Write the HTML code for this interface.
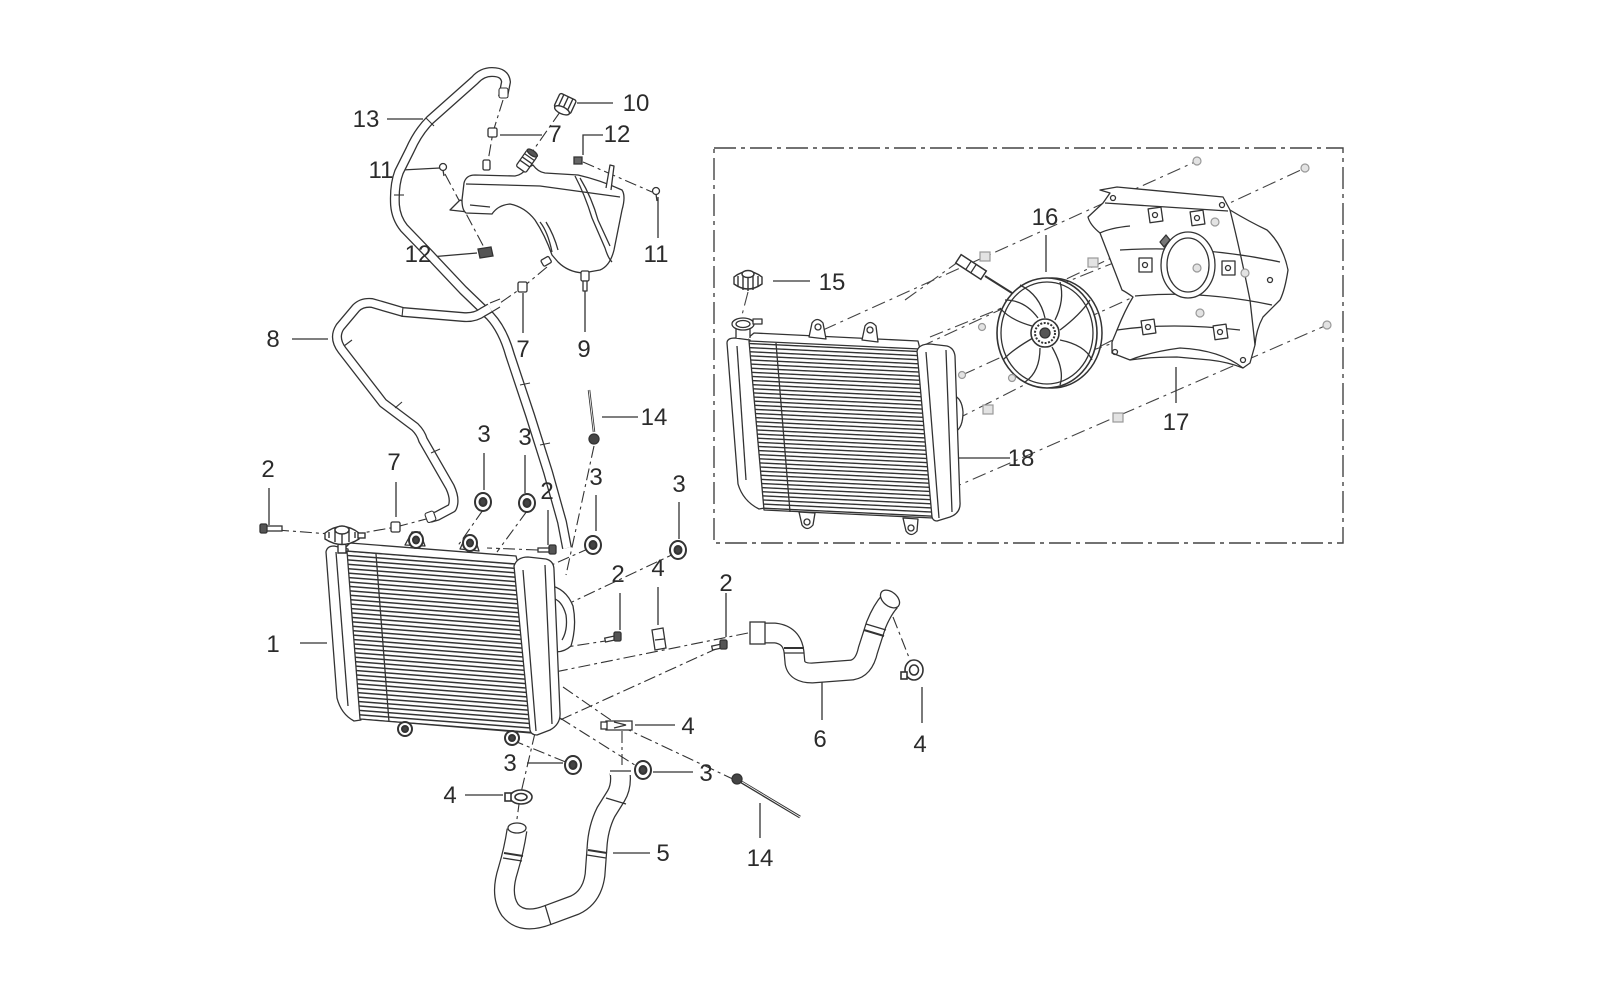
<!DOCTYPE html>
<html><head><meta charset="utf-8"><style>
html,body{margin:0;padding:0;background:#fff;}
svg{display:block}
text{font-family:"Liberation Sans",sans-serif;font-size:24px;fill:#2b2b2b;text-anchor:middle}
</style></head><body>
<svg width="1600" height="1001" viewBox="0 0 1600 1001" xmlns="http://www.w3.org/2000/svg">
<defs>
<pattern id="finL" patternUnits="userSpaceOnUse" width="400" height="4.4" patternTransform="skewY(4.4)">
<rect width="400" height="4.4" fill="#fff"/><rect y="0" width="400" height="1.5" fill="#333"/>
</pattern>
<pattern id="finR" patternUnits="userSpaceOnUse" width="400" height="4.1" patternTransform="skewY(2.7)">
<rect width="400" height="4.1" fill="#fff"/><rect y="0" width="400" height="1.4" fill="#333"/>
</pattern>
</defs>
<rect width="1600" height="1001" fill="#fff"/>

<!-- ===== dashed box ===== -->
<rect x="714" y="148" width="629" height="395" fill="none" stroke="#444" stroke-width="1.4" stroke-dasharray="22 5 4 5"/>

<!-- ===== dash-dot connectors (box) ===== -->
<g stroke="#444" stroke-width="1.1" fill="none" stroke-dasharray="14 5 3 5">
<line x1="823" y1="330" x2="1197" y2="161"/>
<line x1="920" y1="347" x2="1305" y2="168"/>
<line x1="930" y1="337" x2="1215" y2="222"/>
<line x1="962" y1="375" x2="1197" y2="268"/>
<line x1="1012" y1="378" x2="1200" y2="313"/>
<line x1="948" y1="490" x2="1327" y2="325"/>
<line x1="955" y1="420" x2="1245" y2="273"/>
<line x1="905" y1="300" x2="958" y2="262"/>
<line x1="748" y1="292" x2="742" y2="315"/>
</g>

<!-- ===== dash-dot connectors (left area) ===== -->
<g stroke="#333" stroke-width="1.1" fill="none" stroke-dasharray="12 4 3 4">
<line x1="277" y1="530" x2="330" y2="534"/>
<polyline points="430,518 396,527 362,533"/>
<polyline points="503,100 493,132 487,167"/>
<line x1="560" y1="112" x2="530" y2="155"/>
<line x1="445" y1="174" x2="487" y2="253"/>
<line x1="583" y1="162" x2="652" y2="192"/>
<polyline points="547,267 523,287 500,303"/>
<line x1="483" y1="510" x2="457" y2="547"/>
<line x1="527" y1="511" x2="497" y2="552"/>
<line x1="538" y1="550" x2="487" y2="548"/>
<line x1="590" y1="548" x2="547" y2="567"/>
<line x1="594" y1="446" x2="566" y2="575"/>
<line x1="678" y1="552" x2="572" y2="602"/>
<line x1="748" y1="633" x2="530" y2="677"/>
<line x1="612" y1="640" x2="560" y2="648"/>
<line x1="718" y1="648" x2="560" y2="720"/>
<polyline points="563,687 618,725 735,780"/>
<line x1="560" y1="718" x2="638" y2="767"/>
<line x1="512" y1="740" x2="568" y2="763"/>
<polyline points="535,733 520,797 516,826"/>
<line x1="622" y1="731" x2="622" y2="770"/>
<line x1="893" y1="617" x2="910" y2="660"/>
</g>

<!-- ===== leader lines ===== -->
<g stroke="#333" stroke-width="1.3" fill="none">
<line x1="387" y1="119" x2="423" y2="119"/>
<line x1="577" y1="103" x2="613" y2="103"/>
<line x1="500" y1="135" x2="542" y2="135"/>
<polyline points="583,155 583,135 603,135"/>
<line x1="402" y1="170" x2="440" y2="168"/>
<line x1="658" y1="197" x2="658" y2="238"/>
<line x1="430" y1="257" x2="477" y2="253"/>
<line x1="292" y1="339" x2="328" y2="339"/>
<line x1="523" y1="293" x2="523" y2="333"/>
<line x1="585" y1="290" x2="585" y2="332"/>
<line x1="602" y1="417" x2="638" y2="417"/>
<line x1="269" y1="488" x2="269" y2="525"/>
<line x1="396" y1="482" x2="396" y2="517"/>
<line x1="484" y1="453" x2="484" y2="490"/>
<line x1="525" y1="455" x2="525" y2="493"/>
<line x1="548" y1="510" x2="548" y2="545"/>
<line x1="596" y1="495" x2="596" y2="531"/>
<line x1="679" y1="502" x2="679" y2="539"/>
<line x1="620" y1="593" x2="620" y2="630"/>
<line x1="658" y1="587" x2="658" y2="625"/>
<line x1="726" y1="593" x2="726" y2="637"/>
<line x1="300" y1="643" x2="327" y2="643"/>
<line x1="822" y1="682" x2="822" y2="720"/>
<line x1="922" y1="687" x2="922" y2="723"/>
<line x1="635" y1="725" x2="675" y2="725"/>
<line x1="527" y1="763" x2="563" y2="763"/>
<line x1="653" y1="772" x2="693" y2="772"/>
<line x1="465" y1="795" x2="503" y2="795"/>
<line x1="613" y1="853" x2="650" y2="853"/>
<line x1="760" y1="803" x2="760" y2="838"/>
<line x1="773" y1="281" x2="810" y2="281"/>
<line x1="1046" y1="235" x2="1046" y2="272"/>
<line x1="1176" y1="367" x2="1176" y2="403"/>
<line x1="959" y1="458" x2="1010" y2="458"/>
</g>

<!-- ===== hoses 13 and 8 ===== -->
<g fill="none" stroke-linejoin="round" stroke-linecap="butt">
<path d="M503,97 L506,82 Q505,72 492,72 Q482,72 475,80 L430,120 Q418,132 410,150 L399,172 Q394,185 395,205 Q396,218 404,228 L430,255 L463,290 L490,316 Q503,330 510,355 L530,415 L548,472 L562,522 L567,548" stroke="#333" stroke-width="10"/>
<path d="M503,97 L506,82 Q505,72 492,72 Q482,72 475,80 L430,120 Q418,132 410,150 L399,172 Q394,185 395,205 Q396,218 404,228 L430,255 L463,290 L490,316 Q503,330 510,355 L530,415 L548,472 L562,522 L567,548" stroke="#fff" stroke-width="7.4"/>
<path d="M490,308 L483,312 Q475,318 463,317 L403,312 L372,303 Q362,302 356,308 L340,327 Q333,338 342,350 L383,403 L415,427 Q421,433 423,440 L450,487 Q456,500 452,508 L437,516 L430,518" stroke="#333" stroke-width="10"/>
<path d="M490,308 L483,312 Q475,318 463,317 L403,312 L372,303 Q362,302 356,308 L340,327 Q333,338 342,350 L383,403 L415,427 Q421,433 423,440 L450,487 Q456,500 452,508 L437,516 L430,518" stroke="#fff" stroke-width="7.4"/>
</g>
<g stroke="#333" stroke-width="1.1" fill="#fff">
<line x1="490" y1="303" x2="500" y2="299"/><line x1="490" y1="313" x2="500" y2="307"/>
<rect x="499" y="88" width="9" height="10" rx="2"/>
<line x1="426" y1="118" x2="434" y2="126"/><line x1="394" y1="195" x2="404" y2="195"/>
<line x1="520" y1="385" x2="530" y2="383"/><line x1="540" y1="445" x2="550" y2="443"/>
<line x1="403" y1="307" x2="402" y2="317"/><line x1="352" y1="340" x2="344" y2="346"/>
<line x1="395" y1="408" x2="402" y2="402"/><line x1="431" y1="453" x2="440" y2="449"/>
<rect x="426" y="512" width="9" height="10" rx="2" transform="rotate(-20 430 517)"/>
</g>

<!-- ===== reservoir tank ===== -->
<g stroke="#333" stroke-width="1.3" fill="#fff" stroke-linejoin="round">
<path d="M450,210 L460,200 L470,204 L468,212 Z"/>
<path d="M464,183 Q466,175 475,175 L515,176 Q522,175 527,168 L533,165 Q538,172 545,173 L578,175 Q600,180 622,190 Q626,196 622,210 L614,250 Q610,266 600,270 L583,273 Q568,272 558,262 L552,255 Q545,235 535,220 Q525,207 510,204 Q498,205 492,214 L466,213 Q462,210 462,200 Z"/>
<path d="M466,184 L540,186 L620,197" fill="none"/>
<path d="M575,176 Q585,195 592,218 L605,248 Q608,258 612,262" fill="none"/>
<path d="M580,178 Q592,198 598,220 L610,246" fill="none"/>
<path d="M540,222 Q548,232 552,252 M546,222 Q554,235 558,250" fill="none"/>
<path d="M470,205 L490,207" fill="none"/>
<g transform="translate(526,162) rotate(35)"><rect x="-6" y="-11" width="12" height="20" rx="2" fill="#fff"/><line x1="-6" y1="-6" x2="6" y2="-6"/><line x1="-6" y1="-2" x2="6" y2="-2"/><line x1="-6" y1="2" x2="6" y2="2"/><ellipse cx="0" cy="-11" rx="6" ry="2.5" fill="#555"/></g>
<rect x="483" y="160" width="7" height="10" rx="1.5"/>
<rect x="581" y="271" width="8" height="10" rx="1.5"/>
<rect x="583" y="281" width="4" height="10"/>
<rect x="542" y="258" width="9" height="7" rx="1.5" transform="rotate(-30 546 262)"/>
<path d="M606,188 L610,165 L614,166 L611,190" />
</g>
<!-- cap 10 -->
<g transform="translate(565,104) rotate(25)" stroke="#333" stroke-width="1.4" fill="#fff">
<rect x="-9" y="-8" width="18" height="15" rx="2"/>
<line x1="-5" y1="-8" x2="-5" y2="7"/><line x1="0" y1="-8" x2="0" y2="7"/><line x1="5" y1="-8" x2="5" y2="7"/>
<ellipse cx="0" cy="7" rx="8" ry="3.5"/>
</g>
<!-- small parts near tank -->
<g stroke="#333" stroke-width="1.3" fill="#fff">
<rect x="488" y="128" width="9" height="9" rx="1.5"/>
<circle cx="443" cy="167" r="3.5"/><line x1="443" y1="170" x2="444" y2="176"/>
<path d="M574,157 L582,157 L582,164 L574,164 Z" fill="#666"/>
<circle cx="656" cy="191" r="3.5"/><line x1="656" y1="194" x2="657" y2="201"/>
<path d="M478,249 L491,247 L493,256 L480,258 Z" fill="#555"/>
<rect x="518" y="282" width="9" height="10" rx="1.5"/>
</g>

<!-- ===== sensor 14 top ===== -->
<g stroke="#333" stroke-width="1.3" fill="#fff">
<line x1="589" y1="390" x2="594" y2="432" stroke-width="2.5"/>
<line x1="589" y1="390" x2="594" y2="432" stroke="#fff" stroke-width="0.8"/>
<ellipse cx="594" cy="439" rx="5" ry="5" fill="#444"/>
</g>

<!-- ===== left radiator (1) ===== -->
<g stroke="#333" stroke-width="1.3" fill="#fff" stroke-linejoin="round">
<path d="M548,585 Q566,588 573,606 Q577,626 571,646 Q562,654 551,651 Z"/>
<path d="M552,598 Q562,600 566,615 Q568,630 562,640" fill="none"/>
<path d="M326,552 Q327,546 334,546 L348,549 L361,720 L354,721 Q341,714 337,698 Z"/>
<path d="M336,552 L348,706" fill="none"/>
<polygon points="347,551 517,564 531,733 360,719" fill="url(#finL)"/>
<line x1="376" y1="554" x2="389" y2="722" fill="none"/>
<path d="M344,549 L350,543 L516,556 L518,564" fill="none"/>
<path d="M514,566 Q517,557 528,557 L546,559 Q554,561 554,570 L560,712 Q561,724 550,730 L537,735 Q531,735 530,730 Z"/>
<path d="M523,570 L536,731 M545,565 L552,724" fill="none"/>
<path d="M405,545 L412,532 L420,532 L425,546 Z"/>
<path d="M460,549 L466,536 L474,536 L479,551 Z"/>
</g>
<!-- left radiator cap -->
<g stroke="#333" stroke-width="1.4" fill="#fff">
<path d="M338,545 L338,553 L346,553 L346,545"/>
<path d="M325,533 Q342,520 359,533 L359,539 Q342,550 325,539 Z"/>
<path d="M329,532 L329,538 M335,528 L335,542 M342,526 L342,544 M349,528 L349,542 M355,532 L355,538" fill="none"/>
<ellipse cx="342" cy="530" rx="7" ry="4"/>
<rect x="358" y="533" width="7" height="5"/>
</g>

<!-- ===== grommets (3) ===== -->
<g stroke="#333" stroke-width="2" fill="#fff">
<g transform="translate(483,502)"><ellipse rx="8" ry="9"/><ellipse rx="3.5" ry="4" fill="#444"/></g>
<g transform="translate(527,503)"><ellipse rx="8" ry="9"/><ellipse rx="3.5" ry="4" fill="#444"/></g>
<g transform="translate(593,545)"><ellipse rx="8" ry="9"/><ellipse rx="3.5" ry="4" fill="#444"/></g>
<g transform="translate(678,550)"><ellipse rx="8" ry="9"/><ellipse rx="3.5" ry="4" fill="#444"/></g>
<g transform="translate(573,765)"><ellipse rx="8" ry="9"/><ellipse rx="3.5" ry="4" fill="#444"/></g>
<g transform="translate(643,770)"><ellipse rx="8" ry="9"/><ellipse rx="3.5" ry="4" fill="#444"/></g>
<g transform="translate(416,540)"><ellipse rx="7" ry="8"/><ellipse rx="3" ry="3.5" fill="#444"/></g>
<g transform="translate(470,543)"><ellipse rx="7" ry="8"/><ellipse rx="3" ry="3.5" fill="#444"/></g>
<g transform="translate(405,729)"><ellipse rx="7" ry="7"/><ellipse rx="3" ry="3" fill="#444"/></g>
<g transform="translate(512,738)"><ellipse rx="7" ry="7"/><ellipse rx="3" ry="3" fill="#444"/></g>
</g>

<!-- ===== bolts (2), fittings (7), clips (4) ===== -->
<g stroke="#333" stroke-width="1.3" fill="#fff">
<rect x="266" y="526" width="16" height="5"/><rect x="260" y="524" width="7" height="9" rx="1.5" fill="#555"/>
<rect x="391" y="522" width="9" height="10" rx="1.5"/>
<rect x="538" y="548" width="12" height="4"/><rect x="549" y="545" width="7" height="9" rx="1.5" fill="#555"/>
<rect x="605" y="637" width="10" height="4" transform="rotate(-12 610 639)"/><rect x="614" y="632" width="7" height="9" rx="1.5" fill="#555"/>
<rect x="712" y="645" width="10" height="4" transform="rotate(-12 717 647)"/><rect x="720" y="640" width="7" height="9" rx="1.5" fill="#555"/>
<path d="M652,630 L663,628 L666,648 L655,650 Z"/><line x1="655" y1="640" x2="664" y2="639"/>
<path d="M606,721 L632,721 L632,730 L606,730 Z"/><rect x="601" y="722" width="6" height="7"/>
<path d="M614,722 L626,725 L614,728"/>
</g>
<!-- clamp 4 -->
<g stroke="#333" stroke-width="1.6" fill="#fff">
<ellipse cx="521" cy="797" rx="11" ry="7"/><ellipse cx="521" cy="797" rx="6" ry="3.5"/>
<rect x="505" y="793" width="6" height="8"/>
<ellipse cx="914" cy="670" rx="9" ry="10"/><ellipse cx="914" cy="670" rx="4.5" ry="5"/>
<rect x="901" y="672" width="6" height="7"/>
</g>

<!-- ===== hose 5 ===== -->
<g fill="none" stroke-linejoin="round">
<path d="M517,830 Q514,850 508,870 Q500,895 510,910 Q522,925 548,915 L575,905 Q592,897 595,875 L597,848 Q598,828 606,812 L616,796 Q622,786 620,772" stroke="#333" stroke-width="21"/>
<path d="M517,830 Q514,850 508,870 Q500,895 510,910 Q522,925 548,915 L575,905 Q592,897 595,875 L597,848 Q598,828 606,812 L616,796 Q622,786 620,772" stroke="#fff" stroke-width="18.5"/>
</g>
<g stroke="#333" stroke-width="1.3" fill="#fff">
<ellipse cx="517" cy="828" rx="9" ry="5"/>
<rect x="610" y="765" width="21" height="10" fill="#fff" stroke="none"/>
<line x1="610" y1="771" x2="631" y2="771"/>
<line x1="504" y1="853" x2="523" y2="856" stroke-width="2"/><line x1="503" y1="858" x2="522" y2="861"/>
<line x1="588" y1="850" x2="607" y2="853" stroke-width="2"/><line x1="587" y1="855" x2="606" y2="858"/>
<line x1="606" y1="798" x2="626" y2="804"/>
<line x1="545" y1="905" x2="551" y2="925"/>
</g>

<!-- ===== hose 6 ===== -->
<g fill="none" stroke-linejoin="round">
<path d="M762,633 L775,633 Q792,635 794,652 L795,663 Q797,673 812,673 L852,670 Q864,668 868,650 L876,625 Q882,610 890,601" stroke="#333" stroke-width="21"/>
<path d="M762,633 L775,633 Q792,635 794,652 L795,663 Q797,673 812,673 L852,670 Q864,668 868,650 L876,625 Q882,610 890,601" stroke="#fff" stroke-width="18.5"/>
</g>
<g stroke="#333" stroke-width="1.3" fill="#fff">
<rect x="750" y="622" width="15" height="22"/>
<line x1="784" y1="648" x2="804" y2="648" stroke-width="2"/><line x1="784" y1="653" x2="804" y2="653"/>
<line x1="864" y1="630" x2="884" y2="636" stroke-width="2"/><line x1="866" y1="624" x2="886" y2="630"/>
<ellipse cx="890" cy="599" rx="11" ry="7" transform="rotate(40 890 599)"/>
</g>

<!-- ===== sensor 14 bottom ===== -->
<g stroke="#333" stroke-width="1.3" fill="#fff">
<line x1="738" y1="780" x2="800" y2="817" stroke-width="3"/>
<line x1="742" y1="782" x2="800" y2="817" stroke="#fff" stroke-width="0.8"/>
<circle cx="737" cy="779" r="5" fill="#444"/>
</g>

<!-- ===== right radiator (18) ===== -->
<g stroke="#333" stroke-width="1.3" fill="#fff" stroke-linejoin="round">
<path d="M953,395 Q962,398 963,412 Q963,428 955,432 Z"/>
<path d="M727,343 Q727,338 735,338 L750,340 L765,508 L759,509 Q743,501 738,484 Z"/>
<path d="M737,346 L746,480" fill="none"/>
<polygon points="749,341 920,349 933,518 764,510" fill="url(#finR)"/>
<line x1="776" y1="343" x2="790" y2="512"/>
<path d="M748,338 L754,333 L918,341 L920,349" fill="none"/>
<path d="M917,351 Q919,344 930,344 L947,346 Q954,348 955,356 L960,502 Q961,513 950,517 L937,521 Q933,521 932,517 Z"/>
<path d="M926,352 L939,518 M946,350 L952,512" fill="none"/>
<path d="M809,337 L812,323 Q817,316 823,323 L826,339 Z"/><circle cx="818" cy="327" r="3"/>
<path d="M862,340 L865,326 Q870,319 876,326 L878,342 Z"/><circle cx="870" cy="330" r="3"/>
<path d="M799,512 L802,525 Q807,532 813,525 L815,513 Z"/><circle cx="807" cy="522" r="3"/>
<path d="M903,518 L906,531 Q911,538 917,531 L918,519 Z"/><circle cx="911" cy="528" r="3"/>
<path d="M736,338 L736,326 L750,326 L750,338" />
<ellipse cx="743" cy="324" rx="11" ry="6"/><ellipse cx="743" cy="324" rx="7" ry="3.5"/>
<rect x="753" y="319" width="9" height="5"/>
</g>
<!-- cap 15 -->
<g stroke="#333" stroke-width="1.4" fill="#fff">
<path d="M734,277 Q748,266 762,277 L762,284 Q748,294 734,284 Z"/>
<path d="M738,276 L738,286 M743,272 L743,290 M748,271 L748,291 M753,272 L753,290 M758,276 L758,286" fill="none"/>
<ellipse cx="748" cy="274" rx="6" ry="3.5"/>
</g>

<!-- ===== fan (16) ===== -->
<g stroke="#333" stroke-width="1.3" fill="none">
<ellipse cx="1052" cy="333" rx="50" ry="55" stroke-width="1.5"/>
<ellipse cx="1047" cy="333" rx="50" ry="55" fill="#fff" stroke-width="1.6"/>
<ellipse cx="1047" cy="333" rx="46" ry="51"/>
<path d="M1045,318 Q1040,295 1020,285"/>
<path d="M1055,320 Q1065,300 1060,282"/>
<path d="M1060,330 Q1080,315 1090,300"/>
<path d="M1060,340 Q1085,345 1092,360"/>
<path d="M1052,347 Q1065,370 1060,385"/>
<path d="M1040,348 Q1040,372 1025,382"/>
<path d="M1033,338 Q1012,350 1003,360"/>
<path d="M1032,326 Q1010,320 1000,308"/>
<path d="M1038,318 Q1025,300 1005,300"/>
<circle cx="1045" cy="333" r="14" fill="#fff" stroke-width="1.6"/>
<circle cx="1045" cy="333" r="10" stroke-dasharray="2 1.5" stroke-width="2"/>
<circle cx="1045" cy="333" r="5" fill="#555"/>
<line x1="985" y1="276" x2="1012" y2="293" stroke-width="2"/>
<g transform="translate(971,267) rotate(33)"><rect x="-15" y="-5" width="30" height="10" fill="#fff" stroke-width="1.5"/><line x1="-3" y1="-5" x2="-3" y2="5"/><line x1="3" y1="-5" x2="3" y2="5"/></g>
</g>

<!-- ===== shroud (17) ===== -->
<g stroke="#333" stroke-width="1.3" fill="#fff" stroke-linejoin="round">
<path d="M1100,190 L1117,187 L1223,197 L1230,210 Q1250,222 1267,230 Q1283,245 1288,270 Q1285,290 1280,300 L1263,317 Q1256,330 1255,345 L1250,363 L1243,368 Q1228,362 1210,360 L1177,357 Q1150,357 1130,360 L1112,353 L1112,342 Q1115,335 1117,330 Q1125,310 1133,297 Q1126,292 1122,290 L1100,233 Q1090,225 1088,217 L1103,203 L1110,193 Z"/>
<path d="M1105,203 L1228,211 M1100,233 Q1110,228 1130,226 M1230,210 Q1240,250 1250,300 L1255,345 M1117,330 Q1170,322 1240,330 M1130,360 Q1150,352 1180,348 Q1220,350 1243,368 M1120,250 Q1200,245 1280,262 M1135,296 Q1200,290 1272,305" fill="none"/>
<ellipse cx="1188" cy="265" rx="27" ry="33"/>
<ellipse cx="1188" cy="265" rx="21" ry="27"/>
<g fill="#fff">
<rect x="1149" y="208" width="13" height="14" transform="rotate(-8 1155 215)"/>
<rect x="1191" y="211" width="13" height="14" transform="rotate(-8 1197 218)"/>
<rect x="1139" y="258" width="13" height="14"/>
<rect x="1222" y="261" width="13" height="14"/>
<rect x="1142" y="320" width="13" height="14" transform="rotate(-8 1148 327)"/>
<rect x="1214" y="325" width="13" height="14" transform="rotate(-8 1220 332)"/>
</g>
<g fill="none">
<circle cx="1155" cy="215" r="2.5"/><circle cx="1197" cy="218" r="2.5"/><circle cx="1145" cy="265" r="2.5"/>
<circle cx="1228" cy="268" r="2.5"/><circle cx="1148" cy="327" r="2.5"/><circle cx="1220" cy="332" r="2.5"/>
<circle cx="1113" cy="198" r="2.5"/><circle cx="1222" cy="205" r="2.5"/><circle cx="1115" cy="352" r="2.5"/><circle cx="1243" cy="360" r="2.5"/>
<circle cx="1270" cy="280" r="2.5"/>
</g>
<path d="M1160,242 L1166,235 L1170,240 L1164,247 Z" fill="#777"/>
</g>

<!-- screws and clips (gray) -->
<g stroke="#999" stroke-width="1.2" fill="#e3e3e3">
<circle cx="1197" cy="161" r="4"/><circle cx="1305" cy="168" r="4"/><circle cx="1215" cy="222" r="4"/>
<circle cx="1197" cy="268" r="4"/><circle cx="1245" cy="273" r="4"/><circle cx="1200" cy="313" r="4"/>
<circle cx="1327" cy="325" r="4"/>
<circle cx="982" cy="327" r="3.5"/><circle cx="962" cy="375" r="3.5"/><circle cx="1012" cy="378" r="3.5"/>
<rect x="980" y="252" width="10" height="9"/><rect x="1088" y="258" width="10" height="9"/>
<rect x="983" y="405" width="10" height="9"/><rect x="1113" y="413" width="10" height="9"/>
</g>

<!-- ===== labels ===== -->
<g>
<text x="366" y="127">13</text>
<text x="636" y="111">10</text>
<text x="555" y="142">7</text>
<text x="617" y="142">12</text>
<text x="381" y="178">11</text>
<text x="656" y="262">11</text>
<text x="418" y="262">12</text>
<text x="273" y="347">8</text>
<text x="523" y="357">7</text>
<text x="584" y="357">9</text>
<text x="654" y="425">14</text>
<text x="268" y="477">2</text>
<text x="394" y="470">7</text>
<text x="484" y="442">3</text>
<text x="525" y="445">3</text>
<text x="547" y="499">2</text>
<text x="596" y="485">3</text>
<text x="679" y="492">3</text>
<text x="618" y="582">2</text>
<text x="658" y="576">4</text>
<text x="726" y="591">2</text>
<text x="273" y="652">1</text>
<text x="820" y="747">6</text>
<text x="920" y="752">4</text>
<text x="688" y="734">4</text>
<text x="510" y="771">3</text>
<text x="706" y="781">3</text>
<text x="450" y="803">4</text>
<text x="663" y="861">5</text>
<text x="760" y="866">14</text>
<text x="832" y="290">15</text>
<text x="1045" y="225">16</text>
<text x="1176" y="430">17</text>
<text x="1021" y="466">18</text>
</g>
</svg>
</body></html>
